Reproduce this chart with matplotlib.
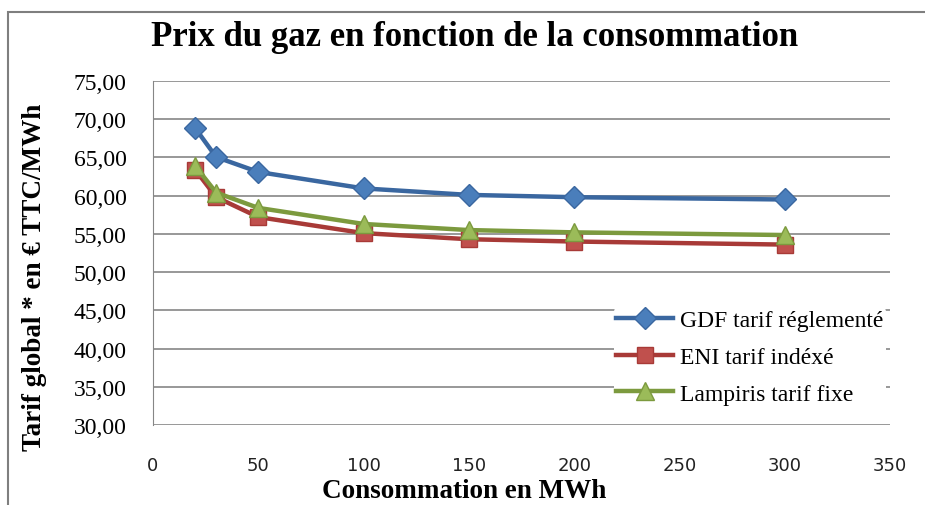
import matplotlib.pyplot as plt
from matplotlib.patches import Rectangle
from matplotlib.ticker import FuncFormatter

# values
conso = [20, 30, 50, 100, 150, 200, 300]
gdf = [68.85, 65.05, 63.1, 60.95, 60.1, 59.8, 59.5]
eni = [63.4, 59.8, 57.2, 55.1, 54.3, 54.0, 53.6]
lampiris = [63.9, 60.4, 58.4, 56.3, 55.5, 55.2, 54.85]
series_names = ['GDF tarif réglementé', 'ENI tarif indéxé', 'Lampiris tarif fixe']

serif = 'Liberation Serif'

fig = plt.figure(figsize=(9.25, 5.06), dpi=100)
# outer chart border (only top and left edges visible in the reference)
fig.patches.append(Rectangle((8 / 925, -0.1), 1.2, (506 - 13) / 506 + 0.1,
                             transform=fig.transFigure, fill=False,
                             edgecolor='#7f7f7f', linewidth=1.5))

ax = fig.add_axes([153 / 925, 80 / 506, (890 - 153) / 925, (426 - 82) / 506])

ax.plot(conso, gdf, color='#3a67a0', lw=3.2, marker='D', ms=11,
        mfc='#4a7ebb', mec='#3a67a0', label=series_names[0], zorder=3)
ax.plot(conso, eni, color='#a83a37', lw=3.2, marker='s', ms=11,
        mfc='#c0504d', mec='#a83a37', label=series_names[1], zorder=3)
ax.plot(conso, lampiris, color='#7c9a3e', lw=3.2, marker='^', ms=13,
        mfc='#9bbb59', mec='#7c9a3e', label=series_names[2], zorder=4)

ax.set_xlim(0, 350)
ax.set_ylim(30, 75)
ax.set_xticks(range(0, 351, 50))
ax.set_yticks(range(30, 76, 5))
ax.yaxis.set_major_formatter(FuncFormatter(lambda v, p: f'{v:.2f}'.replace('.', ',')))
ax.grid(axis='y', color='#868686', lw=1.2)
ax.set_axisbelow(True)
for s in ['top', 'right', 'bottom']:
    ax.spines[s].set_visible(False)
ax.spines['left'].set_color('#868686')
ax.tick_params(axis='both', length=0)
ax.tick_params(axis='x', pad=22, labelsize=13, labelcolor='#222222')
ax.tick_params(axis='y', pad=19, labelsize=17)
for lbl in ax.get_yticklabels():
    lbl.set_fontfamily(serif)

fig.text(464 / 925, 1 - 492 / 506, 'Consommation en MWh', ha='center', va='center',
         fontfamily=serif, fontsize=19.5, fontweight='bold')
fig.text(35 / 925, 1 - 277 / 506, 'Tarif global * en € TTC/MWh', ha='center',
         va='center', rotation=90, fontfamily=serif, fontsize=19.5, fontweight='bold')
fig.text(475 / 925, 1 - 38 / 506, 'Prix du gaz en fonction de la consommation',
         ha='center', va='center', fontfamily=serif, fontsize=25, fontweight='bold')

leg = ax.legend(loc='upper left', bbox_to_anchor=(614 / 925, 1 - 308 / 506),
                bbox_transform=fig.transFigure, frameon=True,
                edgecolor='none', facecolor='white', framealpha=1,
                prop={'family': serif, 'size': 17}, handlelength=2.4,
                handletextpad=0.3, labelspacing=0.65, borderpad=0.1,
                borderaxespad=0)

fig.savefig('out.png', dpi=100)
